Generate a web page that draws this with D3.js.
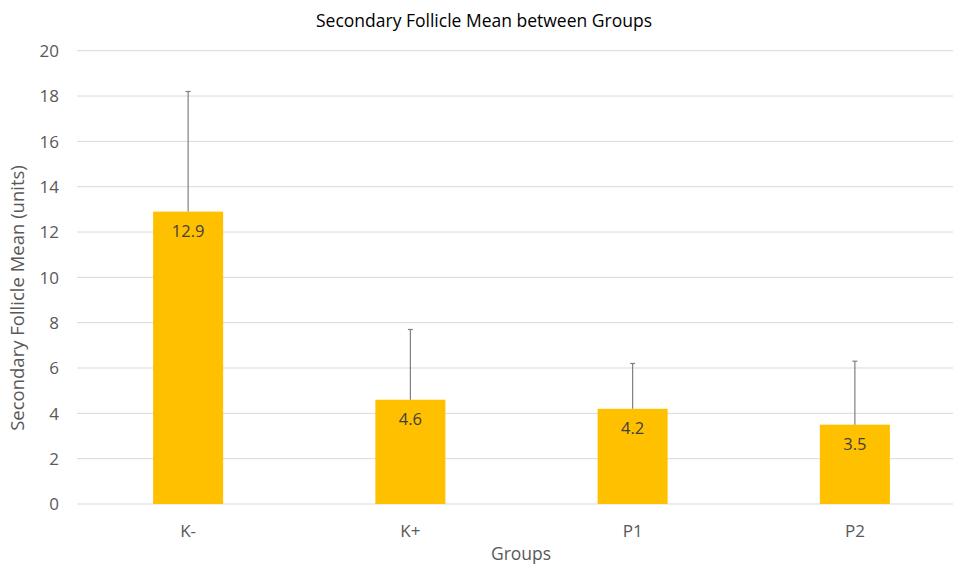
<!DOCTYPE html>
<html><head><meta charset="utf-8">
<script src="https://cdn.jsdelivr.net/npm/d3@7"></script>
<style>body{margin:0;background:#fff}svg{display:block}text{font-family:"Open Sans",sans-serif}</style>
</head><body><svg id="c" width="953" height="565"></svg>
<script>
const categories = ["K-","K+","P1","P2"];
const means = [12.9, 4.6, 4.2, 3.5];
const sds = [5.3, 3.1, 2.0, 2.8];
const yTicks = [0,2,4,6,8,10,12,14,16,18,20];

const svg = d3.select("#c");
const pLeft = 77, pRight = 966, pTop = 50.7, pBottom = 504;
const x = d3.scaleBand().domain(categories).range([pLeft, pRight]).paddingInner(0.685).paddingOuter(0.3425);
const y = d3.scaleLinear().domain([0,20]).range([pBottom, pTop]);

// gridlines
svg.append("g").selectAll("line").data(yTicks).join("line")
  .attr("x1", pLeft).attr("x2", pRight)
  .attr("y1", d=>y(d)).attr("y2", d=>y(d))
  .attr("stroke", "#d9d9d9").attr("stroke-width", 1);

// y axis labels
const yAxis = d3.axisLeft(y).tickValues(yTicks).tickSize(0).tickPadding(0);
const yg = svg.append("g").attr("transform", `translate(59,0)`).call(yAxis);
yg.select(".domain").remove();
yg.selectAll("text").attr("fill","#595959").attr("font-size","17px").attr("font-family","Open Sans").attr("x",0).attr("dy","0.35em");

// bars
svg.append("g").selectAll("rect").data(categories).join("rect")
  .attr("x", d=>x(d)).attr("width", x.bandwidth())
  .attr("y", (d,i)=>y(means[i])).attr("height", (d,i)=>y(0)-y(means[i]))
  .attr("fill", "#ffc000");

// error bars
const eb = svg.append("g").attr("stroke","#7f7f7f").attr("stroke-width",1.2);
categories.forEach((c,i)=>{
  const cx = x(c)+x.bandwidth()/2;
  eb.append("line").attr("x1",cx).attr("x2",cx).attr("y1",y(means[i])).attr("y2",y(means[i]+sds[i]));
  eb.append("line").attr("x1",cx-2.5).attr("x2",cx+2.5).attr("y1",y(means[i]+sds[i])).attr("y2",y(means[i]+sds[i]));
});

// data labels
svg.append("g").selectAll("text").data(categories).join("text")
  .attr("x", d=>x(d)+x.bandwidth()/2)
  .attr("y", (d,i)=>y(means[i])+25)
  .attr("text-anchor","middle").attr("fill","#404040").attr("font-size","16.5px")
  .text((d,i)=>means[i].toFixed(1));

// x axis labels
const xAxis = d3.axisBottom(x).tickSize(0).tickPadding(0);
const xg = svg.append("g").attr("transform", `translate(0,537)`).call(xAxis);
xg.select(".domain").remove();
xg.selectAll("text").attr("fill","#595959").attr("font-size","17px").attr("font-family","Open Sans").attr("y",0).attr("dy","0");

// title
svg.append("text").attr("x",484).attr("y",27).attr("text-anchor","middle")
  .attr("fill","#000").attr("font-size","17.5px").text("Secondary Follicle Mean between Groups");

// axis titles
svg.append("text").attr("transform","translate(24,298) rotate(-90)").attr("text-anchor","middle")
  .attr("fill","#595959").attr("font-size","18.5px").text("Secondary Follicle Mean (units)");
svg.append("text").attr("x",521).attr("y",560).attr("text-anchor","middle")
  .attr("fill","#595959").attr("font-size","17.5px").text("Groups");
</script></body></html>
